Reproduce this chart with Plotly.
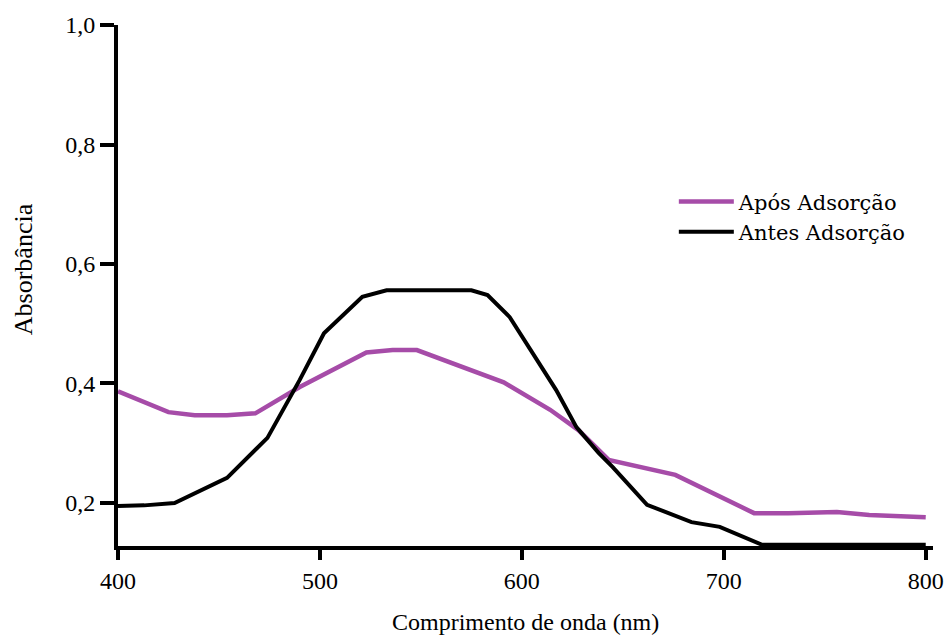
import plotly.graph_objects as go

# Wavelength (nm) and absorbance values
apos_x = [400, 425, 438, 454, 468, 490, 523, 536, 548, 591, 614, 628, 643, 676, 715, 732, 756, 772, 800]
apos_y = [0.387, 0.352, 0.347, 0.347, 0.350, 0.394, 0.452, 0.456, 0.456, 0.402, 0.356, 0.322, 0.272, 0.247, 0.183, 0.183, 0.185, 0.180, 0.176]

antes_x = [400, 413, 428, 454, 474, 490, 502, 521, 533, 575, 583, 594, 617, 627, 638, 645, 662, 684, 698, 719, 800]
antes_y = [0.195, 0.196, 0.200, 0.242, 0.309, 0.406, 0.484, 0.545, 0.556, 0.556, 0.548, 0.511, 0.389, 0.327, 0.284, 0.260, 0.197, 0.168, 0.160, 0.130, 0.130]

x_ticks = [400, 500, 600, 700, 800]
y_ticks = [0.2, 0.4, 0.6, 0.8, 1.0]

series_names = ["Após Adsorção", "Antes Adsorção"]
x_title = "Comprimento de onda (nm)"
y_title = "Absorbância"

serif = "Liberation Serif"

fig = go.Figure()
fig.add_trace(go.Scatter(x=apos_x, y=apos_y, mode="lines", name=series_names[0],
                         line=dict(color="#A64CA8", width=4.5)))
fig.add_trace(go.Scatter(x=antes_x, y=antes_y, mode="lines", name=series_names[1],
                         line=dict(color="#000000", width=4)))

fig.update_layout(
    width=948, height=635,
    margin=dict(l=118, r=15, t=24.6, b=89),
    paper_bgcolor="white", plot_bgcolor="white",
    separators=",.",
    showlegend=True,
    legend=dict(x=0.682, y=0.7, xanchor="left", yanchor="top",
                font=dict(family="DejaVu Serif", size=21, color="black"),
                bgcolor="rgba(0,0,0,0)", itemwidth=55, tracegroupgap=0),
    annotations=[
        dict(text=x_title, xref="paper", yref="paper", x=0.4994, y=-0.1458,
             xanchor="center", yanchor="middle", showarrow=False,
             font=dict(family=serif, size=24, color="black")),
        dict(text=y_title, xref="paper", yref="paper", x=-0.116, y=0.5322,
             xanchor="center", yanchor="middle", showarrow=False, textangle=-90,
             font=dict(family=serif, size=26, color="black")),
    ],
)
fig.update_xaxes(range=[400, 803.6], tickvals=x_ticks, ticks="outside", ticklen=10,
                 tickwidth=4, tickcolor="black", showline=True, linewidth=4, linecolor="black",
                 showgrid=False, zeroline=False, automargin=False,
                 tickfont=dict(family=serif, size=24, color="black"))
fig.update_yaxes(range=[0.128, 1.0], tickvals=y_ticks, tickformat=".1f", ticks="outside",
                 ticklen=14, tickwidth=4, tickcolor="black", showline=True, linewidth=4,
                 linecolor="black", showgrid=False, zeroline=False, automargin=False,
                 tickfont=dict(family=serif, size=24, color="black"))

# remove the browser's default 8px page margin so the figure fills the window
fig.write_html("out.html", config={"displayModeBar": False},
               post_script="document.body.style.margin='0';")
